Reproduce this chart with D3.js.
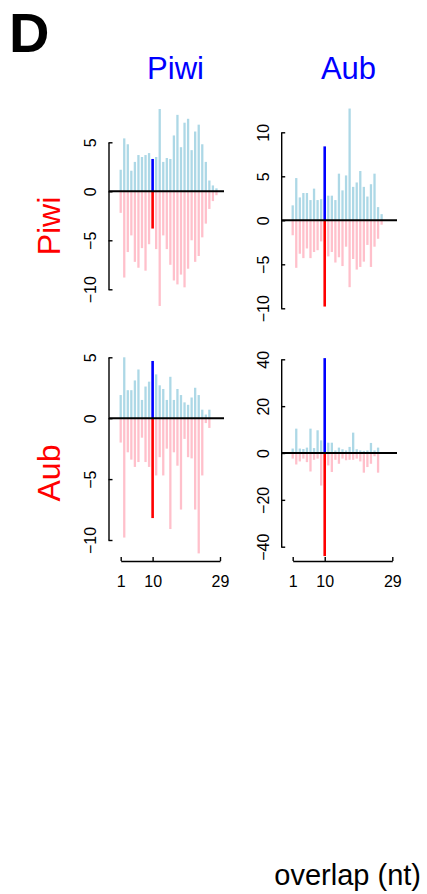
<!DOCTYPE html>
<html><head><meta charset="utf-8">
<script src="https://cdn.jsdelivr.net/npm/d3@7"></script>
<style>
body{margin:0;background:#fff}
svg{display:block}
text{font-family:"Liberation Sans",Arial,Helvetica,sans-serif}
</style>
</head><body>
<script>
// ---- data ----
const overlap = [1,2,3,4,5,6,7,8,9,10,11,12,13,14,15,16,17,18,19,20,21,22,23,24,25,26,27,28,29];
const highlightOverlap = 10;
const xTickValues = [1, 10, 29];
const colNames = ["Piwi", "Aub"];
const rowNames = ["Piwi", "Aub"];
const panelLetter = "D";
const xTitle = "overlap (nt)";

// row Piwi, column Piwi
const piwiPiwiPos = [2.2,5.4,4.8,2.1,3.0,3.7,3.5,3.7,3.9,3.3,3.5,8.4,3.0,3.4,3.3,5.7,7.8,4.5,7.0,7.4,4.2,6.1,6.8,4.8,3.0,1.1,0.6,0.3,0];
const piwiPiwiNeg = [-2.2,-8.8,-6.2,-4.5,-7.2,-7.8,-5.8,-8.1,-5.4,-3.8,-5.9,-11.7,-4.5,-5.9,-7.5,-9.1,-9.5,-8.5,-9.8,-7.9,-5.0,-7.2,-6.6,-4.7,-3.3,-1.8,-1.0,-0.4,0];
const piwiPiwiTicks = [5, 0, -5, -10];
// row Piwi, column Aub
const piwiAubPos = [1.7,4.8,2.6,3.1,3.1,2.3,3.6,2.3,2.4,8.4,2.8,2.8,2.3,5.3,3.4,5.1,12.7,3.8,4.3,5.6,3.8,2.7,4.1,5.3,1.5,0.7,0,0,0];
const piwiAubNeg = [-1.7,-5.4,-3.8,-4.3,-3.2,-4.3,-3.6,-3.4,-2.4,-9.8,-4.1,-3.6,-4.8,-4.2,-5.2,-3.0,-7.6,-4.4,-5.6,-5.3,-4.7,-2.8,-5.3,-3.0,-2.1,-0.5,0,0,0];
const piwiAubTicks = [10, 5, 0, -5, -10];
// row Aub, column Piwi
const aubPiwiPos = [1.9,5.0,2.3,2.3,3.1,4.0,1.5,2.6,3.0,4.7,3.6,2.7,2.4,1.5,3.4,1.5,2.4,1.9,1.3,1.1,1.7,2.5,1.9,0.7,0.3,0.7,0,0,0];
const aubPiwiNeg = [-2.0,-9.8,-2.8,-3.4,-4.0,-3.6,-1.6,-3.6,-4.0,-8.2,-4.7,-3.2,-4.7,-2.5,-9.1,-2.8,-3.9,-7.5,-1.7,-3.2,-3.3,-7.5,-11.1,-4.7,-0.4,-0.8,0,0,0];
const aubPiwiTicks = [5, 0, -5, -10];
// row Aub, column Aub
const aubAubPos = [1.9,10.4,1.9,1.7,2.3,10.4,2.1,9.7,5.4,40.5,4.4,4.4,1.1,2.3,1.6,1.1,2.6,8.7,1.6,1.1,0.9,1.1,4.3,1.1,2.3,0,0,0,0];
const aubAubNeg = [-2.4,-4.9,-3.6,-2.4,-3.9,-7.9,-2.9,-2.4,-13.9,-44,-5.3,-8.1,-2.9,-4.6,-2.4,-3.1,-2.9,-2.9,-2.4,-3.6,-8.4,-6.0,-4.6,-1.4,-8.4,0,0,0,0];
const aubAubTicks = [40, 20, 0, -20, -40];

// ---- layout ----
const W = 427, H = 894;
const svg = d3.select("body").append("svg").attr("width", W).attr("height", H);

const cols = [
  {axisX: 109, x0: 120.7, x1: 220, right: 224, labelX: 175.5},
  {axisX: 281.7, x0: 292.7, x1: 392.3, right: 397, labelX: 348.5}
];
const rows = [
  {labelY: 226},
  {labelY: 473}
];
const panels = [
  {r:0, c:0, pos: piwiPiwiPos, neg: piwiPiwiNeg, ticks: piwiPiwiTicks, px:[289.3,142.3]},
  {r:0, c:1, pos: piwiAubPos, neg: piwiAubNeg, ticks: piwiAubTicks, px:[308.3,132.3]},
  {r:1, c:0, pos: aubPiwiPos, neg: aubPiwiNeg, ticks: aubPiwiTicks, px:[540,357.3]},
  {r:1, c:1, pos: aubAubPos, neg: aubAubNeg, ticks: aubAubTicks, px:[546.7,359.3]}
];
const xAxisY = 561.5;
const minusFmt = v => (v < 0 ? "\u2212" + Math.abs(v) : String(v));

const xScales = cols.map(c => d3.scaleLinear().domain([overlap[0], overlap[overlap.length-1]]).range([c.x0, c.x1]));

panels.forEach(p => {
  const col = cols[p.c];
  const x = xScales[p.c];
  const y = d3.scaleLinear().domain([d3.min(p.ticks), d3.max(p.ticks)]).range(p.px);
  const g = svg.append("g");

  // bars
  overlap.forEach((o, i) => {
    const hi = o === highlightOverlap;
    if (p.pos[i] !== 0) g.append("line")
      .attr("x1", x(o)).attr("x2", x(o)).attr("y1", y(0)).attr("y2", y(p.pos[i]))
      .attr("stroke", hi ? "#0000ff" : "#add8e6").attr("stroke-width", hi ? 2.6 : 2.3);
    if (p.neg[i] !== 0) g.append("line")
      .attr("x1", x(o)).attr("x2", x(o)).attr("y1", y(0)).attr("y2", y(p.neg[i]))
      .attr("stroke", hi ? "#ff0000" : "#ffc0cb").attr("stroke-width", hi ? 2.6 : 2.3);
  });
  // zero line
  g.append("line").attr("x1", col.axisX).attr("x2", col.right)
    .attr("y1", y(0)).attr("y2", y(0)).attr("stroke", "#000").attr("stroke-width", 2);

  // y axis
  const ax = g.append("g").attr("transform", `translate(${col.axisX - 0.5},0)`)
    .call(d3.axisLeft(y).tickValues(p.ticks).tickSize(-4).tickSizeOuter(0).tickFormat(minusFmt));
  ax.select(".domain").attr("stroke-width", 1.4);
  ax.selectAll(".tick line").attr("stroke-width", 1.4);
  ax.selectAll(".tick text")
    .attr("x", 0).attr("y", -12.5).attr("dy", 0)
    .attr("transform", "rotate(-90)")
    .attr("text-anchor", "middle")
    .attr("font-size", 16).attr("fill", "#000");
  ax.attr("font-family", null);

  // x axis only on bottom row
  if (p.r === 1) {
    const bx = g.append("g").attr("transform", `translate(0,${xAxisY - 0.5})`)
      .call(d3.axisBottom(x).tickValues(xTickValues).tickSize(-4).tickSizeOuter(0));
    bx.select(".domain").attr("stroke-width", 1.4);
    bx.selectAll(".tick line").attr("stroke-width", 1.4);
    bx.selectAll(".tick text").attr("y", 26).attr("dy", 0)
      .attr("font-size", 16).attr("fill", "#000");
    bx.attr("font-family", null);
  }
});

// column headers
cols.forEach((c, i) => {
  svg.append("text").attr("x", c.labelX).attr("y", 79).attr("text-anchor", "middle")
    .attr("font-size", 31).attr("fill", "#0000ff").text(colNames[i]);
});
// row labels
rows.forEach((r, i) => {
  svg.append("text").attr("transform", `translate(59.5,${r.labelY}) rotate(-90)`)
    .attr("text-anchor", "middle").attr("font-size", 32).attr("fill", "#ff0000").text(rowNames[i]);
});
// panel letter
svg.append("text").attr("x", 9).attr("y", 52).attr("font-size", 56).attr("font-weight", "bold")
  .attr("fill", "#000").text(panelLetter);
// x title
svg.append("text").attr("x", 421).attr("y", 885).attr("text-anchor", "end")
  .attr("font-size", 29).attr("fill", "#000").text(xTitle);
</script>
</body></html>
